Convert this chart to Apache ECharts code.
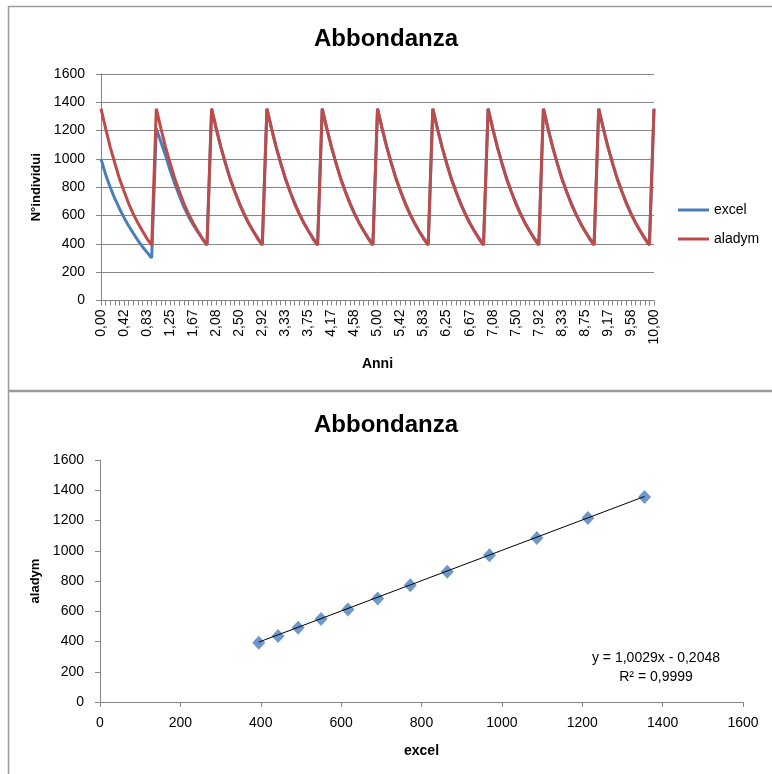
<!DOCTYPE html>
<html>
<head>
<meta charset="utf-8">
<script src="https://cdn.jsdelivr.net/npm/echarts@6/dist/echarts.min.js"></script>
<style>
html,body{margin:0;padding:0;background:#fff;}
#c{width:772px;height:774px;}
</style>
</head>
<body>
<div id="c"></div>
<script>
// ---- Top chart: time axis (years, monthly steps) ----
const months = [
 "0,00","0,08","0,17","0,25","0,33","0,42","0,50","0,58","0,67","0,75","0,83","0,92",
 "1,00","1,08","1,17","1,25","1,33","1,42","1,50","1,58","1,67","1,75","1,83","1,92",
 "2,00","2,08","2,17","2,25","2,33","2,42","2,50","2,58","2,67","2,75","2,83","2,92",
 "3,00","3,08","3,17","3,25","3,33","3,42","3,50","3,58","3,67","3,75","3,83","3,92",
 "4,00","4,08","4,17","4,25","4,33","4,42","4,50","4,58","4,67","4,75","4,83","4,92",
 "5,00","5,08","5,17","5,25","5,33","5,42","5,50","5,58","5,67","5,75","5,83","5,92",
 "6,00","6,08","6,17","6,25","6,33","6,42","6,50","6,58","6,67","6,75","6,83","6,92",
 "7,00","7,08","7,17","7,25","7,33","7,42","7,50","7,58","7,67","7,75","7,83","7,92",
 "8,00","8,08","8,17","8,25","8,33","8,42","8,50","8,58","8,67","8,75","8,83","8,92",
 "9,00","9,08","9,17","9,25","9,33","9,42","9,50","9,58","9,67","9,75","9,83","9,92",
 "10,00"
];

const excelSeries = [
 1000,890,800,720,650,585,528,475,425,380,340,300,
 1215,1120,1025,920,825,740,660,592,535,485,438,392,
 1355,1214,1087,969,864,772,691,617,550,493,443,395,
 1355,1214,1087,969,864,772,691,617,550,493,443,395,
 1355,1214,1087,969,864,772,691,617,550,493,443,395,
 1355,1214,1087,969,864,772,691,617,550,493,443,395,
 1355,1214,1087,969,864,772,691,617,550,493,443,395,
 1355,1214,1087,969,864,772,691,617,550,493,443,395,
 1355,1214,1087,969,864,772,691,617,550,493,443,395,
 1355,1214,1087,969,864,772,691,617,550,493,443,395,
 1355
];

const aladymSeries = [
 1355,1216,1084,970,861,772,685,611,548,491,436,391,
 1355,1216,1084,970,861,772,685,611,548,491,436,391,
 1355,1216,1084,970,861,772,685,611,548,491,436,391,
 1355,1216,1084,970,861,772,685,611,548,491,436,391,
 1355,1216,1084,970,861,772,685,611,548,491,436,391,
 1355,1216,1084,970,861,772,685,611,548,491,436,391,
 1355,1216,1084,970,861,772,685,611,548,491,436,391,
 1355,1216,1084,970,861,772,685,611,548,491,436,391,
 1355,1216,1084,970,861,772,685,611,548,491,436,391,
 1355,1216,1084,970,861,772,685,611,548,491,436,391,
 1355
];

// ---- Bottom chart: scatter excel vs aladym ----
const scatterExcel  = [395, 443, 493, 550, 617, 691, 772, 864, 969, 1087, 1214, 1355];
const scatterAladym = [391, 436, 491, 548, 611, 685, 772, 861, 970, 1084, 1216, 1355];
const trendSlope = 1.0029;
const trendIntercept = -0.2048;
const trendText1 = "y = 1,0029x - 0,2048";
const trendText2 = "R\u00B2 = 0,9999";

const FONT = "Liberation Sans";
const AXIS_GRAY = "#868686";
const plain = v => String(v);

const scatterData = scatterExcel.map((x, i) => [x, scatterAladym[i]]);
const xMin = Math.min(...scatterExcel), xMax = Math.max(...scatterExcel);
const trendData = [[xMin, trendSlope * xMin + trendIntercept], [xMax, trendSlope * xMax + trendIntercept]];

const chart = echarts.init(document.getElementById('c'), null, {renderer: 'canvas'});
chart.setOption({
  animation: false,
  backgroundColor: '#ffffff',
  textStyle: {fontFamily: FONT},
  graphic: [
    {type: 'rect', shape: {x: 8.5, y: 6.5, width: 800, height: 384}, style: {fill: null, stroke: '#9a9a9a', lineWidth: 1.5}, z: -1},
    {type: 'rect', shape: {x: 8.5, y: 391.5, width: 800, height: 400}, style: {fill: null, stroke: '#9a9a9a', lineWidth: 1.5}, z: -1},
    {type: 'text', style: {text: trendText1, x: 656, y: 658, textAlign: 'center', textVerticalAlign: 'middle', font: '14px "Liberation Sans"', fill: '#000'}},
    {type: 'text', style: {text: trendText2, x: 656, y: 677, textAlign: 'center', textVerticalAlign: 'middle', font: '14px "Liberation Sans"', fill: '#000'}}
  ],
  title: [
    {text: 'Abbondanza', left: 'center', top: 27, padding: 0, textStyle: {fontFamily: FONT, fontSize: 24, fontWeight: 'bold', color: '#000'}},
    {text: 'Abbondanza', left: 'center', top: 413, padding: 0, textStyle: {fontFamily: FONT, fontSize: 24, fontWeight: 'bold', color: '#000'}}
  ],
  legend: {
    data: ['excel', 'aladym'],
    orient: 'vertical',
    left: 678, top: 202, padding: 0,
    icon: 'rect', itemWidth: 31, itemHeight: 3, itemGap: 13,
    textStyle: {fontFamily: FONT, fontSize: 14, color: '#000', lineHeight: 16}
  },
  grid: [
    {left: 101, right: 118, top: 74, bottom: 473.5, containLabel: false},
    {left: 100, right: 29, top: 460, bottom: 72, containLabel: false}
  ],
  xAxis: [
    {
      type: 'category', gridIndex: 0, data: months, boundaryGap: false,
      name: 'Anni', nameLocation: 'middle', nameGap: 57,
      nameTextStyle: {fontFamily: FONT, fontSize: 14, fontWeight: 'bold', color: '#000'},
      axisLine: {lineStyle: {color: AXIS_GRAY, width: 1}},
      axisTick: {show: true, interval: 0, length: 5, lineStyle: {color: AXIS_GRAY}},
      axisLabel: {interval: 4, rotate: 90, margin: 9, fontSize: 14, color: '#000', fontFamily: FONT},
      splitLine: {show: false}
    },
    {
      type: 'value', gridIndex: 1, min: 0, max: 1600, interval: 200,
      name: 'excel', nameLocation: 'middle', nameGap: 42,
      nameTextStyle: {fontFamily: FONT, fontSize: 14, fontWeight: 'bold', color: '#000'},
      axisLine: {show: true, lineStyle: {color: AXIS_GRAY, width: 1}},
      axisTick: {show: true, length: 5, lineStyle: {color: AXIS_GRAY}},
      axisLabel: {margin: 14, fontSize: 14, color: '#000', fontFamily: FONT, formatter: plain},
      splitLine: {show: false}
    }
  ],
  yAxis: [
    {
      type: 'value', gridIndex: 0, min: 0, max: 1600, interval: 200,
      name: 'N\u00B0individui', nameLocation: 'middle', nameGap: 45, nameRotate: 90,
      nameTextStyle: {fontFamily: FONT, fontSize: 13, fontWeight: 'bold', color: '#000'},
      axisLine: {show: true, lineStyle: {color: AXIS_GRAY, width: 1}},
      axisTick: {show: true, length: 5, lineStyle: {color: AXIS_GRAY}},
      axisLabel: {margin: 16, fontSize: 14, color: '#000', fontFamily: FONT, formatter: plain},
      splitLine: {show: true, lineStyle: {color: AXIS_GRAY, width: 1}}
    },
    {
      type: 'value', gridIndex: 1, min: 0, max: 1600, interval: 200,
      name: 'aladym', nameLocation: 'middle', nameGap: 45, nameRotate: 90,
      nameTextStyle: {fontFamily: FONT, fontSize: 13, fontWeight: 'bold', color: '#000'},
      axisLine: {show: true, lineStyle: {color: AXIS_GRAY, width: 1}},
      axisTick: {show: true, length: 5, lineStyle: {color: AXIS_GRAY}},
      axisLabel: {margin: 16, fontSize: 14, color: '#000', fontFamily: FONT, formatter: plain},
      splitLine: {show: false}
    }
  ],
  series: [
    {
      name: 'excel', type: 'line', xAxisIndex: 0, yAxisIndex: 0, data: excelSeries,
      symbol: 'none', lineStyle: {color: '#4A7EBB', width: 3}, itemStyle: {color: '#4A7EBB'}
    },
    {
      name: 'aladym', type: 'line', xAxisIndex: 0, yAxisIndex: 0, data: aladymSeries,
      symbol: 'none', lineStyle: {color: '#BE4B48', width: 3}, itemStyle: {color: '#BE4B48'}
    },
    {
      name: 'scatter', type: 'scatter', xAxisIndex: 1, yAxisIndex: 1, data: scatterData,
      symbol: 'diamond', symbolSize: [13, 14], itemStyle: {color: '#4A7EBB'}
    },
    {
      name: 'trend', type: 'line', xAxisIndex: 1, yAxisIndex: 1, data: trendData,
      symbol: 'none', lineStyle: {color: '#000', width: 1}, z: 5
    }
  ]
});
</script>
</body>
</html>
